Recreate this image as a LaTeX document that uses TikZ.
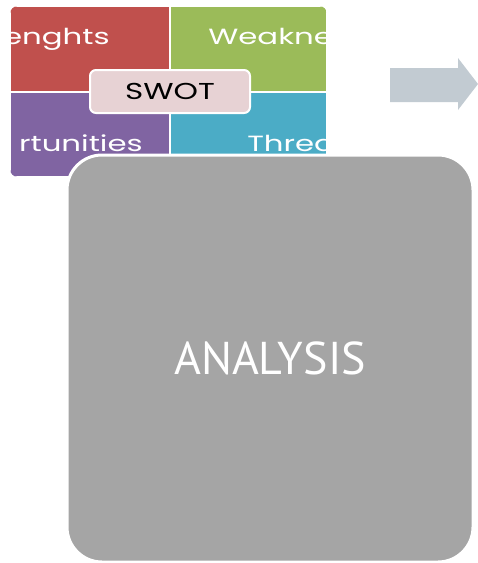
\documentclass[tikz,border=0pt]{standalone}
\usepackage{fontspec}
\setmainfont{PT Sans}
\newfontfamily\swotfont{Poppins}
\definecolor{swotred}{RGB}{192,80,77}
\definecolor{swotgreen}{RGB}{155,187,89}
\definecolor{swotpurple}{RGB}{128,100,162}
\definecolor{swotcyan}{RGB}{75,172,198}
\definecolor{swotpink}{RGB}{231,210,212}
\definecolor{boxgray}{RGB}{165,165,165}
\definecolor{arrowgray}{RGB}{194,203,210}
\tikzset{
  quadrant/.style={draw=white,line width=2pt},
  quadtext/.style={text=white,font=\swotfont\fontsize{22}{24}\selectfont,
    inner sep=0pt,xscale=1.4,transform shape},
  swotbox/.style={draw=white,line width=2pt,fill=swotpink,rounded corners=6pt,
    minimum width=160pt,minimum height=43pt,
    font=\swotfont\fontsize{23}{26}\selectfont},
  analysisbox/.style={draw=white,line width=3pt,fill=boxgray,rounded corners=35pt,
    minimum width=406pt,minimum height=407pt,text=white,
    font=\fontsize{46}{50}\selectfont}
}
\begin{document}
\begin{tikzpicture}[x=1pt,y=-1pt]

  \useasboundingbox (0,0) rectangle (478,563);

  \begin{scope}
    \clip[rounded corners=8pt] (10,6) rectangle (327,177);
    \filldraw[quadrant,fill=swotred]    (10,6)   rectangle (170,92);
    \filldraw[quadrant,fill=swotgreen]  (170,6)  rectangle (327,92);
    \filldraw[quadrant,fill=swotpurple] (10,92)  rectangle (170,177);
    \filldraw[quadrant,fill=swotcyan]   (170,92) rectangle (327,177);

    \begin{scope}[every node/.style={quadtext}]
      \node[anchor=base east] (strengths)     at (110,44)  {enghts};
      \node[anchor=base west] (weaknesses)    at (208,44)  {Weakne};
      \node[anchor=base east] (opportunities) at (143,151) {rtunities};
      \node[anchor=base west] (threats)       at (247,151) {Threa};
    \end{scope}
  \end{scope}

  \node[swotbox] (swot) at (170,91.5) {\scalebox{1.35}[1]{SWOT}};

  \fill[arrowgray] (390,68) -- (458,68) -- (458,58) -- (478,84)
    -- (458,110) -- (458,102) -- (390,102) -- cycle;

  \node[analysisbox] (analysis) at (270,358.5) {ANALYSIS};

\end{tikzpicture}
\end{document}
